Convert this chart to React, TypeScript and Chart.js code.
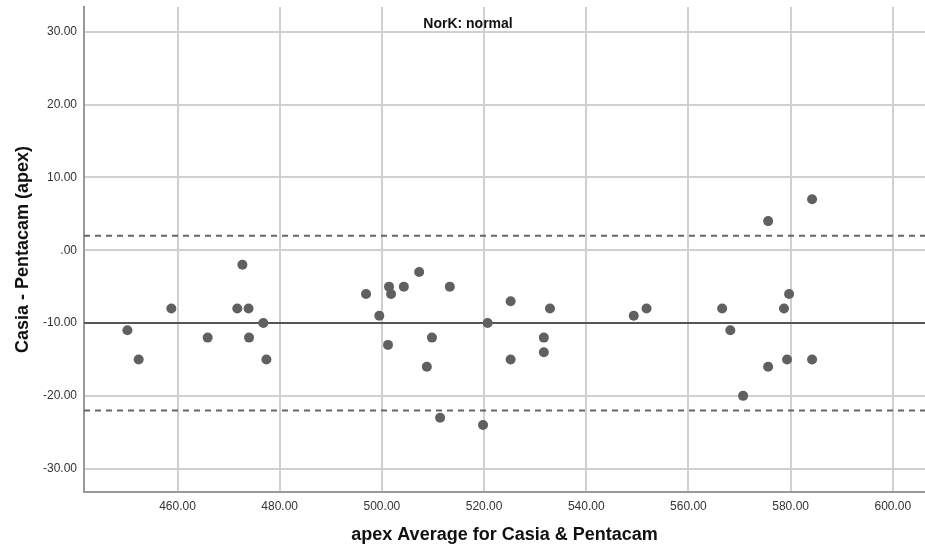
import React, { useEffect, useRef } from "react";
import { Chart, registerables } from "chart.js";

Chart.register(...registerables);

const avgValues = [
  450.2, 452.4, 458.8, 465.9, 471.7, 472.7, 473.9, 474.0, 476.8, 477.4,
  496.9, 499.5, 501.4, 501.2, 501.8, 504.3, 507.3, 508.8, 509.8, 511.4,
  513.3, 519.8, 520.7, 525.2, 525.2, 531.7, 531.7, 532.9, 549.3, 551.8,
  566.6, 568.2, 570.7, 575.6, 575.6, 578.7, 579.3, 579.7, 584.2, 584.2,
];
const diffValues = [
  -11, -15, -8, -12, -8, -2, -8, -12, -10, -15,
  -6, -9, -5, -13, -6, -5, -3, -16, -12, -23,
  -5, -24, -10, -7, -15, -12, -14, -8, -9, -8,
  -8, -11, -20, 4, -16, -8, -15, -6, 7, -15,
];
const meanDiff = -10;
const upperLimit = 2;
const lowerLimit = -22;
const xTicks = [460, 480, 500, 520, 540, 560, 580, 600];
const yTicks = [-30, -20, -10, 0, 10, 20, 30];
const xMin = 441.7;
const xMax = 606.3;
const yMin = -33.2;
const yMax = 33.4;
const chartTitle = "NorK: normal";
const xTitle = "apex Average for Casia & Pentacam";
const yTitle = "Casia - Pentacam (apex)";

const fmt = (v: number) => v.toFixed(2).replace(/^(-?)0\./, "$1.");

const titlePlugin = {
  id: "innerTitle",
  afterDraw(chart: any) {
    const { ctx, chartArea } = chart;
    ctx.save();
    ctx.font = "bold 14px 'Liberation Sans', Arial, sans-serif";
    ctx.fillStyle = "#111";
    ctx.textAlign = "center";
    ctx.textBaseline = "middle";
    ctx.fillText(chartTitle, 468, chartArea.top + 17);
    ctx.restore();
  },
};

export default function App() {
  const ref = useRef<HTMLCanvasElement | null>(null);
  useEffect(() => {
    if (!ref.current) return;
    const hLine = (y: number, dash: number[], width: number, color: string) => ({
      type: "scatter" as const,
      data: [
        { x: xMin, y },
        { x: xMax, y },
      ],
      showLine: true,
      borderColor: color,
      borderWidth: width,
      borderDash: dash,
      pointRadius: 0,
      order: 2,
    });
    const chart = new Chart(ref.current, {
      type: "scatter",
      data: {
        datasets: [
          hLine(meanDiff, [], 2, "#555"),
          hLine(upperLimit, [6, 5], 2, "#666"),
          hLine(lowerLimit, [6, 5], 2, "#666"),
          {
            type: "scatter",
            data: avgValues.map((x, i) => ({ x, y: diffValues[i] })),
            backgroundColor: "#606060",
            borderColor: "#606060",
            borderWidth: 0,
            pointRadius: 5,
            order: 1,
          },
        ],
      },
      plugins: [titlePlugin],
      options: {
        animation: false,
        responsive: false,
        maintainAspectRatio: false,
        layout: { autoPadding: false, padding: { top: 7, right: 0, left: 0, bottom: 0 } },
        plugins: {
          legend: { display: false },
          tooltip: { enabled: false },
          title: { display: false },
        },
        scales: {
          x: {
            type: "linear",
            min: xMin,
            max: xMax,
            afterBuildTicks: (s: any) => {
              s.ticks = xTicks.map((v) => ({ value: v }));
            },
            afterFit: (s: any) => {
              s.height = 60;
              s.paddingLeft = 0;
              s.paddingRight = 0;
            },
            grid: { color: "#d0d0d0", lineWidth: 2, drawTicks: false },
            border: { color: "#999", width: 2 },
            ticks: {
              padding: 7,
              color: "#333",
              font: { size: 12, family: "'Liberation Sans', Arial, sans-serif" },
              callback: (v: any) => fmt(Number(v)),
            },
            title: {
              display: true,
              text: xTitle,
              color: "#111",
              font: { size: 18, weight: "bold", family: "'Liberation Sans', Arial, sans-serif" },
              padding: { top: 0, bottom: 6 },
            },
          },
          y: {
            type: "linear",
            min: yMin,
            max: yMax,
            afterBuildTicks: (s: any) => {
              s.ticks = yTicks.map((v) => ({ value: v }));
            },
            afterFit: (s: any) => {
              s.width = 84;
              s.paddingTop = 0;
              s.paddingBottom = 0;
            },
            grid: { color: "#d0d0d0", lineWidth: 2, drawTicks: false },
            border: { color: "#999", width: 2 },
            ticks: {
              padding: 7,
              color: "#333",
              font: { size: 12, family: "'Liberation Sans', Arial, sans-serif" },
              callback: (v: any) => fmt(Number(v)),
            },
            title: {
              display: true,
              text: yTitle,
              color: "#111",
              font: { size: 18, weight: "bold", family: "'Liberation Sans', Arial, sans-serif" },
              padding: { top: 12, bottom: 0 },
            },
          },
        },
      },
    } as any);
    return () => chart.destroy();
  }, []);
  return (
    <div style={{ position: "fixed", left: 0, top: 0, width: 925, height: 552, background: "#fff" }}>
      <canvas ref={ref} width={925} height={552} style={{ width: 925, height: 552 }} />
    </div>
  );
}
